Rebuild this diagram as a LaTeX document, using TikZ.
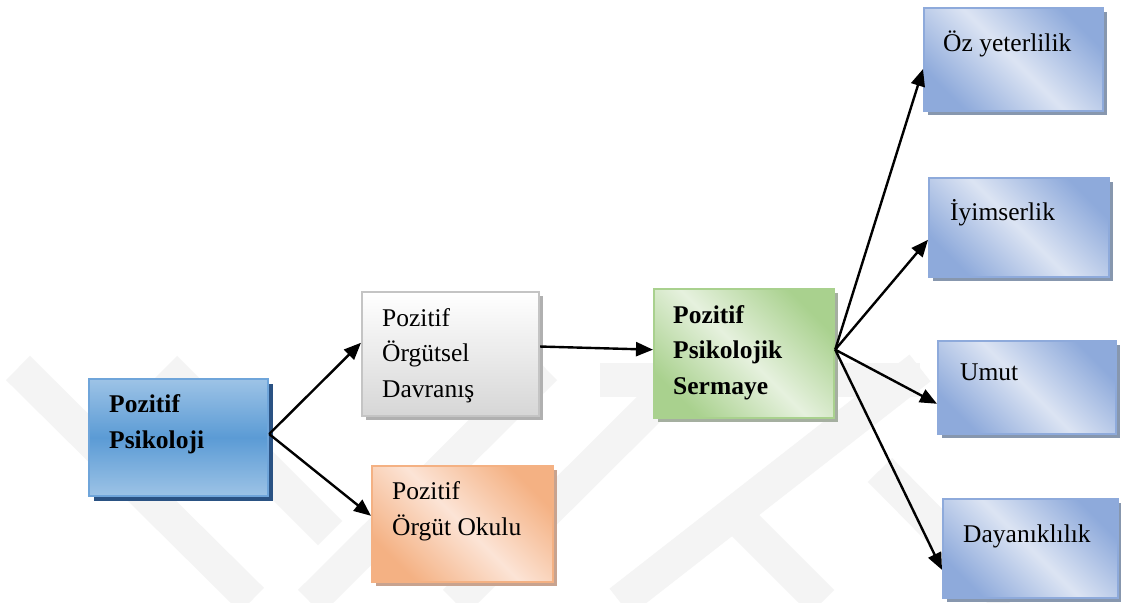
\documentclass[tikz,border=0pt]{standalone}
\usepackage{fontspec}
\setmainfont{Liberation Serif}
\usetikzlibrary{arrows.meta,calc,shadows}

\definecolor{ppTop}{HTML}{9DC3E6}
\definecolor{ppMid}{HTML}{5B9BD5}
\definecolor{ppEdge}{HTML}{6FA5DA}
\definecolor{ppShadow}{HTML}{2A5283}
\definecolor{grEdge}{HTML}{C4C4C4}
\definecolor{grBottom}{HTML}{D6D6D6}
\definecolor{grShadow}{HTML}{B0B0B0}
\definecolor{orDark}{HTML}{F4B183}
\definecolor{orLight}{HTML}{FCE4D6}
\definecolor{orShadow}{HTML}{C8A38F}
\definecolor{gnDark}{HTML}{A9D18E}
\definecolor{gnLight}{HTML}{E6F1DE}
\definecolor{gnShadow}{HTML}{A5AFA0}
\definecolor{blDark}{HTML}{8EAADB}
\definecolor{blLight}{HTML}{DCE4F3}
\definecolor{blShadow}{HTML}{8797AE}
\definecolor{mark}{HTML}{F4F4F4}

\tikzset{
  box/.style={draw, line width=2.2pt, inner sep=0pt, anchor=north west},
  pbox/.style={box, draw=ppEdge, top color=ppTop, bottom color=ppTop, middle color=ppMid,
    drop shadow={shadow xshift=5pt, shadow yshift=-5pt, opacity=1, fill=ppShadow}},
  gbox/.style={box, draw=grEdge, top color=white, bottom color=grBottom,
    drop shadow={shadow xshift=4pt, shadow yshift=-4pt, opacity=1, fill=grShadow}},
  diag/.style 2 args={box, draw=#1, left color=#1, right color=#1, middle color=#2, shading angle=-45},
  obox/.style={diag={orDark}{orLight},
    drop shadow={shadow xshift=4pt, shadow yshift=-4pt, opacity=1, fill=orShadow}},
  nbox/.style={diag={gnDark}{gnLight},
    drop shadow={shadow xshift=4pt, shadow yshift=-4pt, opacity=1, fill=gnShadow}},
  bbox/.style={diag={blDark}{blLight},
    drop shadow={shadow xshift=4pt, shadow yshift=-4pt, opacity=1, fill=blShadow}},
  lbl/.style={anchor=base west, align=left, inner sep=0pt, font=\fontsize{25.5}{35.5}\selectfont},
  blbl/.style={lbl, font=\fontsize{25.5}{35.5}\selectfont\bfseries},
  link/.style={line width=2.4pt, -{Triangle[length=17pt,width=14pt]}},
  band/.style={line width=34pt, draw=mark}
}

\begin{document}
\begin{tikzpicture}[x=1pt,y=-1pt]
  \fill[white] (0,0) rectangle (1121,602);
  \useasboundingbox (0,0) rectangle (1121,602);

  % faint background emblem
  \draw[band] (18,368) -- (252,600);
  \draw[band] (165,368) -- (330,533);
  \draw[band] (310,602) -- (545,368);
  \draw[band] (455,602) -- (690,368);
  \draw[band] (620,602) -- (920,368);
  \draw[band] (600,380) -- (920,380);
  \draw[band] (740,520) -- (822,602);
  \draw[band] (880,470) -- (1010,602);

  % boxes
  \node[pbox, minimum width=179pt, minimum height=117pt] (pp)  at (88,378) {};
  \node[gbox, minimum width=177pt, minimum height=124pt] (pod) at (361,291) {};
  \node[obox, minimum width=181pt, minimum height=116pt] (pok) at (371,465) {};
  \node[nbox, minimum width=180pt, minimum height=129pt] (pps) at (653,288) {};
  \node[bbox, minimum width=179pt, minimum height=103pt] (oz)  at (923,7) {};
  \node[bbox, minimum width=180pt, minimum height=99pt]  (iy)  at (928,177) {};
  \node[bbox, minimum width=178pt, minimum height=93pt]  (um)  at (937,340) {};
  \node[bbox, minimum width=175pt, minimum height=99pt]  (da)  at (942,498) {};

  % labels (anchored at the baseline of their last line)
  \node[blbl] (tpp)  at (109,448) {Pozitif\\Psikoloji};
  \node[lbl]  (tpod) at (382,397) {Pozitif\\Örgütsel\\Davranış};
  \node[lbl]  (tpok) at (392,535) {Pozitif\\Örgüt Okulu};
  \node[blbl] (tpps) at (673,394) {Pozitif\\Psikolojik\\Sermaye};
  \node[lbl]  (toz)  at (943,52)  {Öz yeterlilik};
  \node[lbl]  (tiy)  at (950,220) {İyimserlik};
  \node[lbl]  (tum)  at (960,380) {Umut};
  \node[lbl]  (tda)  at (963,542) {Dayanıklılık};

  % connectors
  \draw[link] ($(pp.south east)!0.53!(pp.north east)$) -- ($(pod.south west)!0.59!(pod.north west)$);
  \draw[link] ($(pp.south east)!0.53!(pp.north east)$) -- ($(pok.south west)!0.57!(pok.north west)$);
  \draw[link] ($(pod.south east)!0.56!(pod.north east)$) -- ($(pps.south west)!0.53!(pps.north west)$);
  \draw[link] ($(pps.south east)!0.53!(pps.north east)$) -- ($(oz.south west)!0.41!(oz.north west)$);
  \draw[link] ($(pps.south east)!0.53!(pps.north east)$) -- ($(iy.south west)!0.38!(iy.north west)$);
  \draw[link] ($(pps.south east)!0.53!(pps.north east)$) -- ($(um.south west)!0.33!(um.north west)$);
  \draw[link] ($(pps.south east)!0.53!(pps.north east)$) -- ($(da.south west)!0.29!(da.north west)$);
\end{tikzpicture}
\end{document}
